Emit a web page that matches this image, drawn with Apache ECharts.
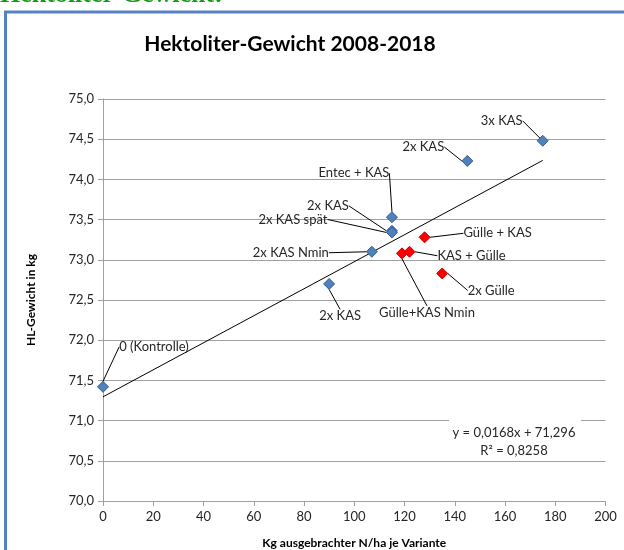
<!DOCTYPE html>
<html><head><meta charset="utf-8">
<script src="https://cdn.jsdelivr.net/npm/echarts@6/dist/echarts.min.js"></script>
<style>html,body{margin:0;padding:0;background:#fff}#c{width:624px;height:550px}</style>
</head><body><div id="c"></div>
<script>
// ---- data ----
const blueNames = ['0 (Kontrolle)', '2x KAS', '2x KAS Nmin', '2x KAS', '2x KAS spät', 'Entec + KAS', '2x KAS', '3x KAS'];
const blueX = [0, 90, 107, 115, 115, 115, 145, 175];
const blueY = [71.42, 72.70, 73.10, 73.36, 73.34, 73.53, 74.23, 74.48];
const redNames = ['Gülle+KAS Nmin', 'KAS + Gülle', 'Gülle + KAS', '2x Gülle'];
const redX = [119, 122, 128, 135];
const redY = [73.08, 73.10, 73.28, 72.83];
const xTicks = [0, 20, 40, 60, 80, 100, 120, 140, 160, 180, 200];
const yTicks = [70.0, 70.5, 71.0, 71.5, 72.0, 72.5, 73.0, 73.5, 74.0, 74.5, 75.0];
const trendSlope = 0.0168;
const trendIntercept = 71.296;
const trendR2 = 0.8258;
const trendXRange = [0, 175];

// ---- label placement (style) ----
const blueLabelOffset = [[51, -40], [11, 32], [-81, 1], [-64, -25], [-99, -13], [-38, -44], [-44, -14], [-41, -20]];
const redLabelOffset = [[25, 59], [62, 4], [73, -4], [49, 17]];

const fmt = v => v.toFixed(1).replace('.', ',');
const eqText = 'y = ' + trendSlope.toFixed(4).replace('.', ',') + 'x + ' + trendIntercept.toFixed(3).replace('.', ',');
const r2Text = 'R² = ' + trendR2.toFixed(4).replace('.', ',');

const FONT = 'Lato';
const chart = echarts.init(document.getElementById('c'), null, {renderer: 'canvas'});

function scatterSeries(xs, ys, names, offsets, fill, border) {
  return {
    type: 'scatter',
    symbol: 'diamond',
    symbolSize: 11,
    z: 5,
    itemStyle: {color: fill, borderColor: border, borderWidth: 1, opacity: 1},
    data: xs.map((x, i) => ({value: [x, ys[i]], name: names[i]})),
    label: {
      show: true, position: 'inside', formatter: p => p.name,
      fontFamily: FONT, fontSize: 13, color: '#262626'
    },
    labelLine: {show: true, lineStyle: {color: '#000', width: 1}},
    labelLayout: p => ({dx: offsets[p.dataIndex][0], dy: offsets[p.dataIndex][1]}),
    emphasis: {disabled: true}
  };
}

chart.setOption({
  animation: false,
  backgroundColor: '#fff',
  grid: {left: 103, right: 18.5, top: 99, bottom: 49, containLabel: false, outerBoundsMode: 'none'},
  xAxis: {
    type: 'value', min: xTicks[0], max: xTicks[xTicks.length - 1], interval: xTicks[1] - xTicks[0],
    name: 'Kg ausgebrachter N/ha je Variante', nameLocation: 'middle', nameGap: 36,
    nameTextStyle: {fontFamily: FONT, fontWeight: 'bold', fontSize: 12, color: '#000'},
    axisLine: {show: true, lineStyle: {color: '#a0a0a0', width: 1}},
    axisTick: {show: true, inside: false, length: 5, lineStyle: {color: '#a0a0a0'}},
    axisLabel: {fontFamily: FONT, fontSize: 13, color: '#262626', margin: 9},
    splitLine: {show: false}
  },
  yAxis: {
    type: 'value', min: yTicks[0], max: yTicks[yTicks.length - 1], interval: yTicks[1] - yTicks[0],
    name: 'HL-Gewicht in kg', nameLocation: 'middle', nameGap: 66, nameRotate: 90,
    nameTextStyle: {fontFamily: FONT, fontWeight: 'bold', fontSize: 12, color: '#000'},
    axisLine: {show: true, lineStyle: {color: '#a0a0a0', width: 1}},
    axisTick: {show: true, inside: false, length: 5, lineStyle: {color: '#a0a0a0'}},
    axisLabel: {fontFamily: FONT, fontSize: 13, color: '#262626', margin: 9, formatter: fmt},
    splitLine: {show: true, lineStyle: {color: '#a0a0a0', width: 1}}
  },
  series: [
    {
      type: 'line', z: 3, symbol: 'none', silent: true,
      lineStyle: {color: '#000', width: 1},
      data: trendXRange.map(x => [x, trendIntercept + trendSlope * x])
    },
    scatterSeries(blueX, blueY, blueNames, blueLabelOffset, '#4f81bd', '#385d8a'),
    scatterSeries(redX, redY, redNames, redLabelOffset, '#ff0000', '#c00000')
  ],
  graphic: [
    {type: 'text', left: 0, top: -18, z: 10,
     style: {text: 'Hektoliter-Gewicht:', font: 'bold 26px "Liberation Serif"', fill: '#149a14'}},
    {type: 'rect', z: 1, shape: {x: 5.5, y: 12, width: 700, height: 700},
     style: {fill: 'none', stroke: '#5582c3', lineWidth: 3}},
    {type: 'text', z: 10, x: 290, y: 44,
     style: {text: 'Hektoliter-Gewicht 2008-2018', font: 'bold 21px Lato', fill: '#000', align: 'center', verticalAlign: 'middle'}},
    {type: 'rect', z: 4, shape: {x: 449, y: 419, width: 132, height: 40}, style: {fill: '#fff'}},
    {type: 'text', z: 10, x: 514, y: 433,
     style: {text: eqText, font: '13px Lato', fill: '#262626', align: 'center', verticalAlign: 'middle'}},
    {type: 'text', z: 10, x: 514, y: 451,
     style: {text: r2Text, font: '13px Lato', fill: '#262626', align: 'center', verticalAlign: 'middle'}}
  ]
});
</script></body></html>
